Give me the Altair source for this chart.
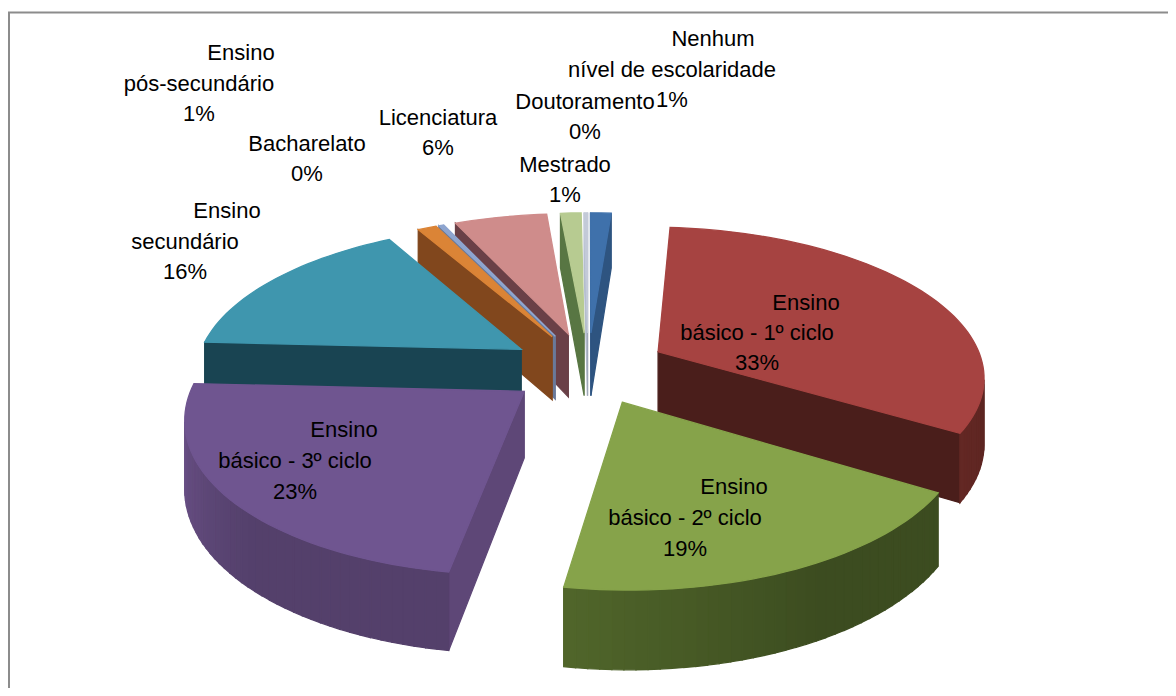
import math
import altair as alt
import pandas as pd

# ---- chart content -------------------------------------------------------
categories = ["Nenhum nível de escolaridade", "Ensino básico - 1º ciclo", "Ensino básico - 2º ciclo",
              "Ensino básico - 3º ciclo", "Ensino secundário", "Ensino pós-secundário", "Bacharelato",
              "Licenciatura", "Mestrado", "Doutoramento"]
shares = [1.2, 32.6, 18.8, 23.2, 16.0, 1.1, 0.3, 5.4, 1.2, 0.2]
top_colors = ["#3f71ab", "#a64341", "#86a34a", "#6f5590", "#3f96ae", "#db8436", "#8ea5cf", "#cf8c8b", "#b7cb91", "#c3cad8"]
wall_colors = ["#2e5480", "#4a1e1b", "#3c4c20", "#54406b", "#173d4a", "#74401a", "#5f6d8a", "#5f3a40", "#4f6a3c", "#a0a8b8"]
label_lines = [["Nenhum", "nível de escolaridade", "1%"], ["Ensino", "básico - 1º ciclo", "33%"],
               ["Ensino", "básico - 2º ciclo", "19%"], ["Ensino", "básico - 3º ciclo", "23%"],
               ["Ensino", "secundário", "16%"], ["Ensino", "pós-secundário", "1%"], ["Bacharelato", "0%"],
               ["Licenciatura", "6%"], ["Mestrado", "1%"], ["Doutoramento", "0%"]]
# label centres (per line), in picture pixels
line_x = [[713, 672, 672], [806, 757, 757], [734, 685, 685], [344, 295, 295], [227, 185, 185],
          [241, 199, 199], [307, 307], [438, 438], [565, 565], [585, 585]]
line_y = [[40, 71, 101], [304, 334, 364], [488, 519, 550], [431, 462, 493], [212, 243, 273],
          [54, 85, 115], [145, 175], [119, 149], [166, 196], [103, 133]]

# ---- 3-D pie projection parameters ---------------------------------------
CX, CY = 580.0, 360.0
R = 326.0
EXPLODE = 80.0
KY = 0.454
PERSP = 0.151 / R
THICK = 65.0
W, H = 1176, 696


def project(X, Y, Z=0.0):
    s = 1.0 / (1.0 - PERSP * Y)
    return CX + X * s, CY + (KY * Y - Z) * s


def shade(hexcol, f):
    r, g, b = [int(hexcol[i:i + 2], 16) / 255 for i in (1, 3, 5)]
    return "#%02x%02x%02x" % tuple(int(max(0, min(1, c * f)) * 255) for c in (r, g, b))


rows = []
pid = 0


def poly(pts, col):
    global pid
    for j, (x, y) in enumerate(pts):
        rows.append({"pid": pid, "o": j, "x": x, "y": y, "c": col})
    pid += 1


def area(pts):
    return sum(pts[i][0] * pts[(i + 1) % len(pts)][1] - pts[(i + 1) % len(pts)][0] * pts[i][1] for i in range(len(pts)))


slices = []
cum = 0.0
tot = sum(shares)
for i, v in enumerate(shares):
    a0 = cum / tot * 2 * math.pi
    cum += v
    a1 = cum / tot * 2 * math.pi
    slices.append((i, a0, a1))


def depth(sl):
    m = (sl[1] + sl[2]) / 2
    return -math.cos(m)


for i, a0, a1 in sorted(slices, key=depth):
    mid = (a0 + a1) / 2
    ax, ay = EXPLODE * math.sin(mid), -EXPLODE * math.cos(mid)
    n = max(2, int((a1 - a0) / 0.03))
    rim = []
    for k in range(n + 1):
        t = a0 + (a1 - a0) * k / n
        rim.append((ax + R * math.sin(t), ay - R * math.cos(t), t))
    wc = wall_colors[i]
    e0, e1 = rim[0], rim[-1]
    w0 = [project(ax, ay), project(e0[0], e0[1]), project(e0[0], e0[1], -THICK), project(ax, ay, -THICK)]
    w1 = [project(e1[0], e1[1]), project(ax, ay), project(ax, ay, -THICK), project(e1[0], e1[1], -THICK)]
    for q, f in ((w0, 1.12), (w1, 1.0)):
        if area(q) < 0:
            poly(q, shade(wc, f))
    for k in range(n):
        p0, p1 = rim[k], rim[k + 1]
        q = [project(p0[0], p0[1]), project(p1[0], p1[1]), project(p1[0], p1[1], -THICK), project(p0[0], p0[1], -THICK)]
        if area(q) >= 0:
            continue
        f = 1.0 + 0.35 * max(0.0, (k / n - 0.4) / 0.6)
        poly(q, shade(wc, f))
    top = [project(ax, ay)] + [project(p[0], p[1]) for p in rim]
    poly(top, top_colors[i])

df = pd.DataFrame(rows)

PW, PH = W - 16, H - 16
xs = alt.Scale(domain=[0, PW], range=[0, PW])
ys = alt.Scale(domain=[0, PH], range=[0, PH])

faces = alt.Chart(df).mark_line(filled=True, strokeWidth=1.3, interpolate="linear-closed").encode(
    x=alt.X("x:Q", scale=xs, axis=None),
    y=alt.Y("y:Q", scale=ys, axis=None),
    fill=alt.Fill("c:N", scale=None, legend=None),
    stroke=alt.Stroke("c:N", scale=None, legend=None),
    detail="pid:N",
    order="o:Q",
)

txt = []
for lines, xl, yl in zip(label_lines, line_x, line_y):
    for s, x, y in zip(lines, xl, yl):
        txt.append({"t": s, "x": x - 8, "y": y - 9})
labels = alt.Chart(pd.DataFrame(txt)).mark_text(
    font="Liberation Sans", fontSize=22, color="#000000", baseline="middle", align="center"
).encode(x=alt.X("x:Q", scale=xs, axis=None), y=alt.Y("y:Q", scale=ys, axis=None), text="t:N")

frame = pd.DataFrame({"x": [1], "y": [4.5], "x2": [1240], "y2": [760]})
border = alt.Chart(frame).mark_rect(fill="#ffffff", stroke="#8c8c8c", strokeWidth=2, clip=False).encode(
    x=alt.X("x:Q", scale=xs, axis=None), x2="x2:Q", y=alt.Y("y:Q", scale=ys, axis=None), y2="y2:Q")

chart = alt.layer(border, faces, labels).properties(
    width=PW, height=PH, padding=0, background="#ffffff",
    autosize=alt.AutoSizeParams(type="none"),
).configure_view(stroke=None)
chart.save("out.html", embed_options={"renderer": "svg", "actions": False})
